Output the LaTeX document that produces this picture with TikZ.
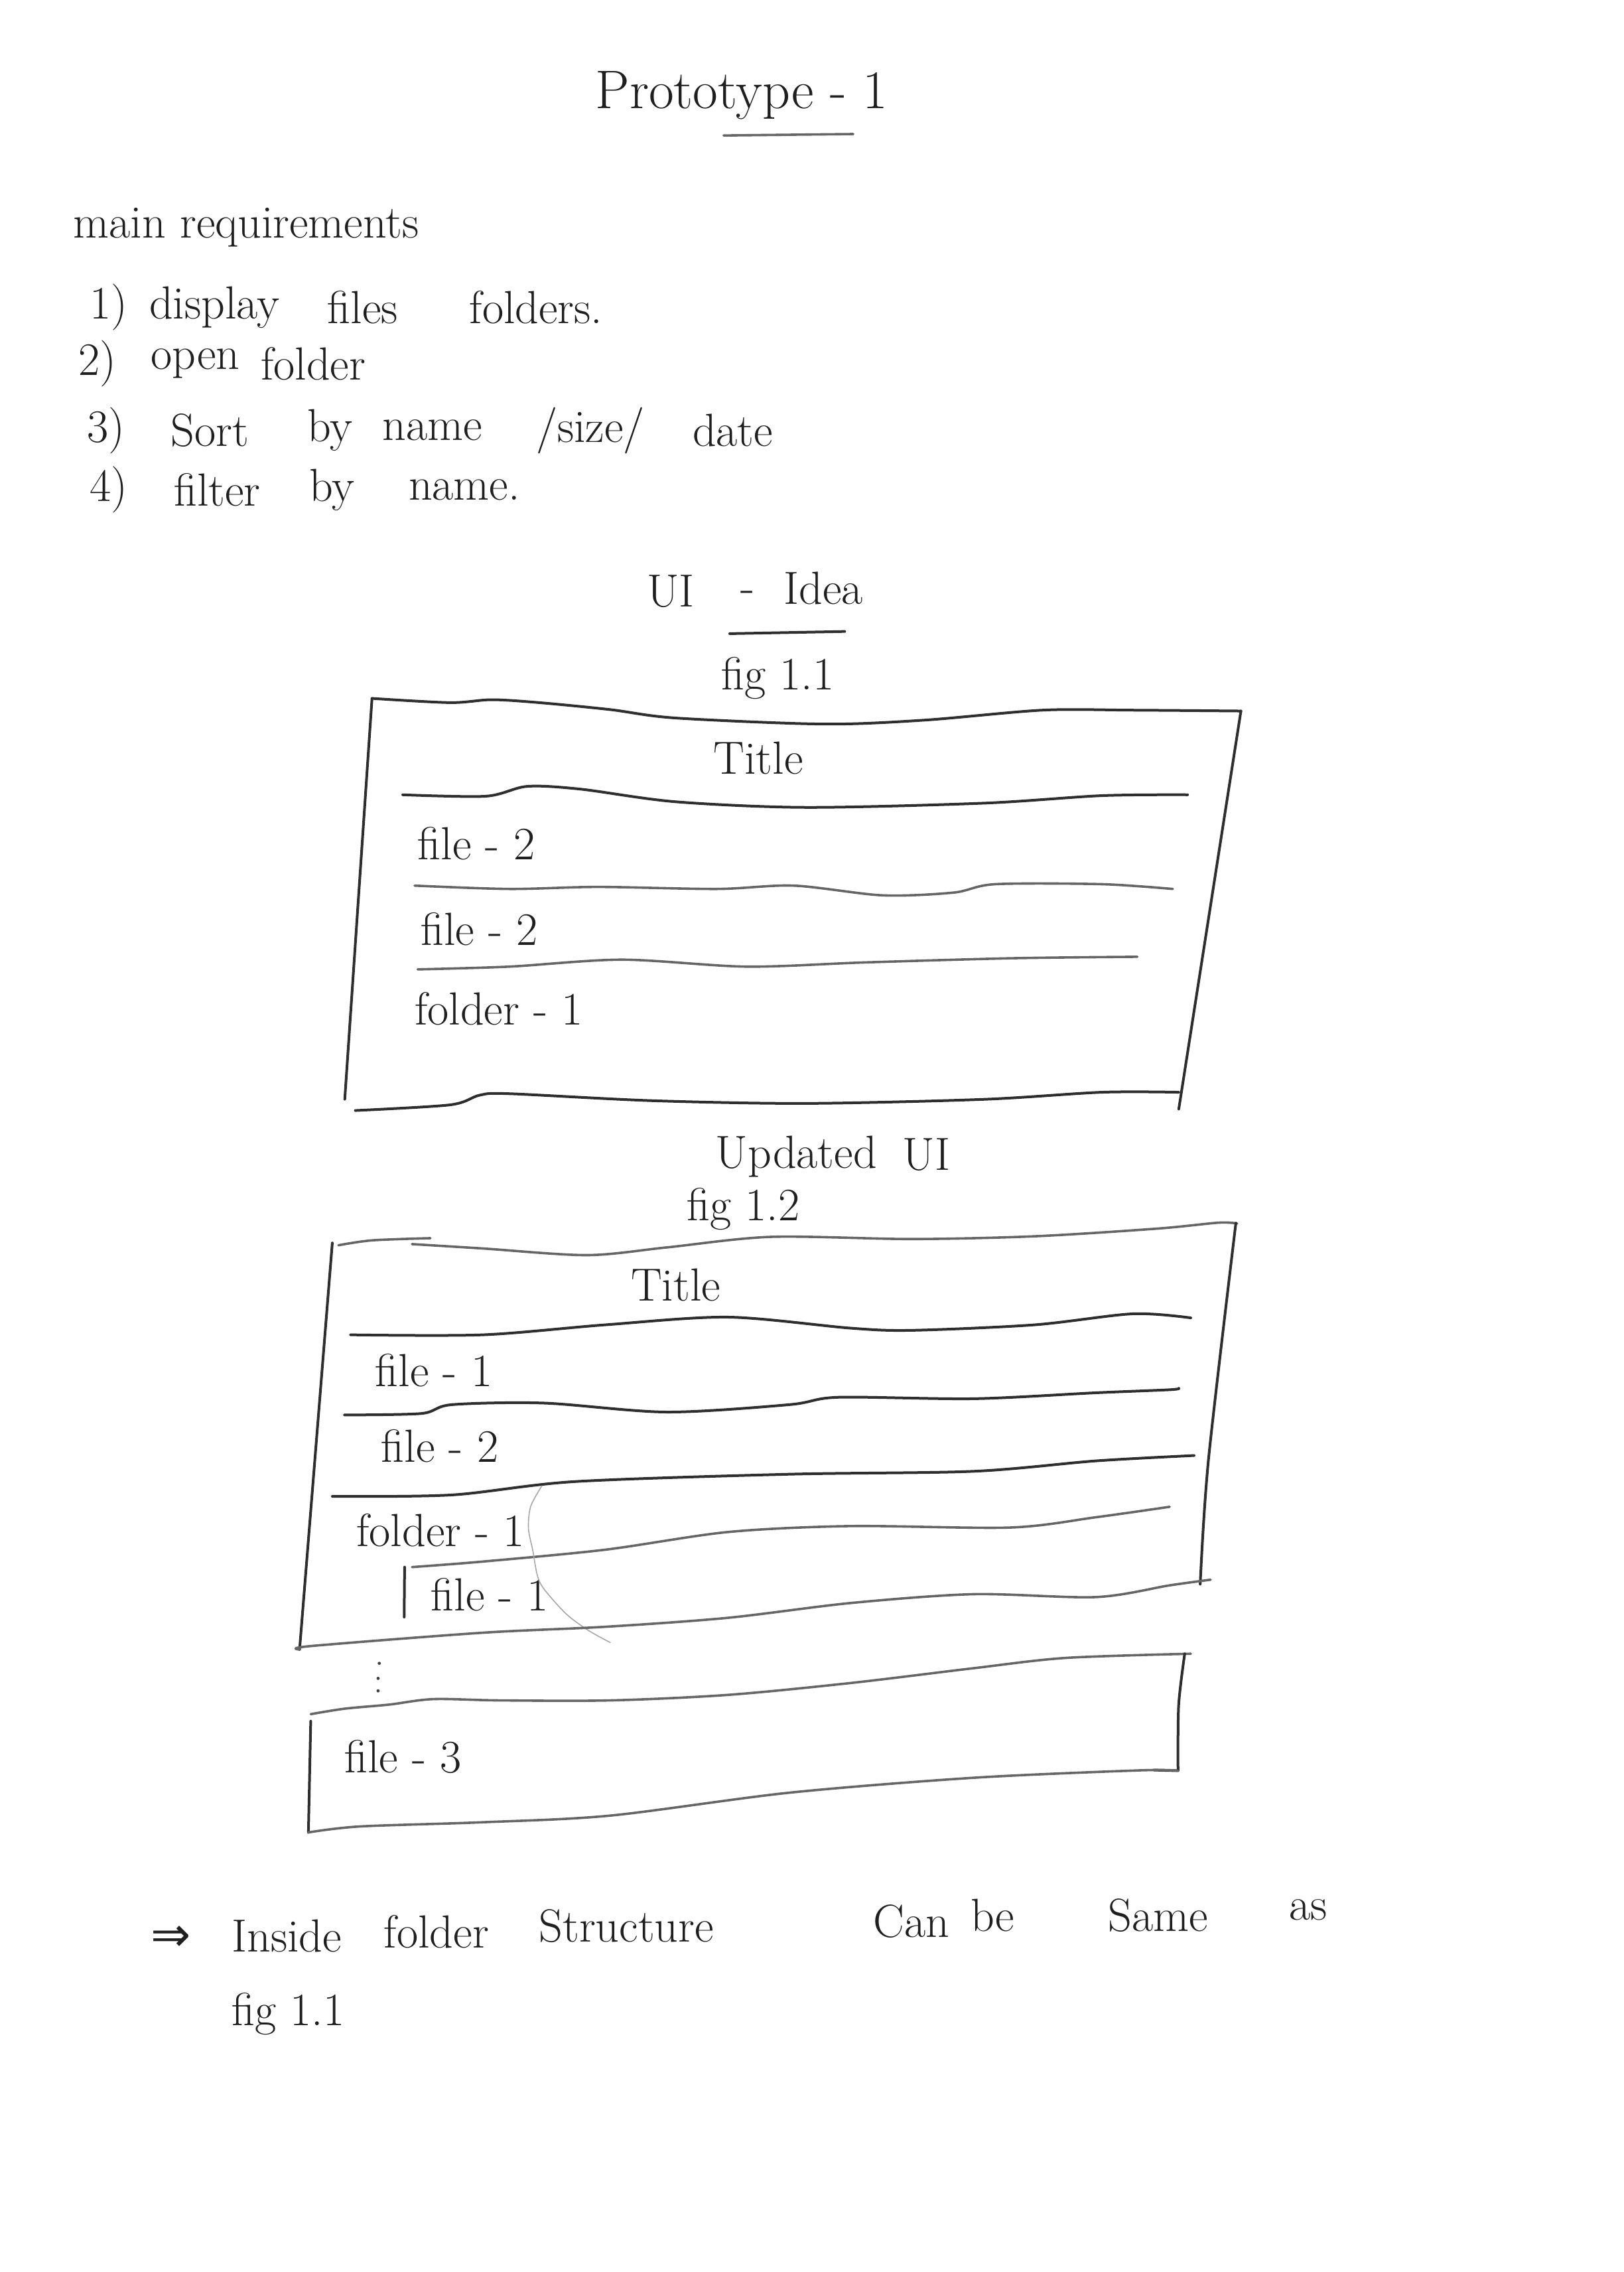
\documentclass[tikz,border=0pt]{standalone}
\usepackage{fontspec}
\newfontfamily\symbfont{DejaVu Sans}
\begin{document}
\begin{tikzpicture}[x=2.1838pt,y=-2.1838pt,
  pen/.style={draw=black!82,line width=4pt,line cap=round,line join=round},
  lightpen/.style={draw=black!60,line width=3.6pt,line cap=round,line join=round},
  stray/.style={draw=black!35,line width=1.6pt,line cap=round},
  hand/.style={inner sep=0pt,font=\fontsize{70}{76}\selectfont,text=black!88},
  handw/.style={hand,anchor=west},
  bighand/.style={inner sep=0pt,font=\fontsize{82}{88}\selectfont,text=black!88}]
\useasboundingbox (0,0) rectangle (1121,1568);
\fill[white] (0,0) rectangle (1121,1568);

% ---------------- heading ----------------
\node[bighand] (proto) at (512,66) {Prototype - 1};
\coordinate (pu1) at (499.5,93.5);
\coordinate (pu2) at (589,92.5);
\draw[lightpen] (pu1) -- (pu2);

% ---------------- requirements ----------------
\node[handw] (mainreq) at (50.6,157) {main requirements};

\node[handw] (r1a) at (62,212) {1)};
\node[handw] (r1b) at (103,212) {display};
\node[handw] (r1c) at (226,212) {files};
\node[handw] (r1d) at (324,212) {folders.};

\node[handw] (r2a) at (54,251) {2)};
\node[handw] (r2b) at (104,251) {open};
\node[handw] (r2c) at (180,251) {folder};

\node[handw] (r3a) at (60,297) {3)};
\node[handw] (r3b) at (118,297) {Sort};
\node[handw] (r3c) at (212,297) {by};
\node[handw] (r3d) at (264,297) {name};
\node[handw] (r3e) at (370,297) {/size/};
\node[handw] (r3f) at (478,297) {date};

\node[handw] (r4a) at (62,338) {4)};
\node[handw] (r4b) at (120,338) {filter};
\node[handw] (r4c) at (213.6,338) {by};
\node[handw] (r4d) at (282,338) {name.};

% ---------------- UI idea / fig 1.1 ----------------
\node[handw] (ui) at (446.5,408) {UI};
\node[hand] (uidash) at (516,412) {-};
\node[handw] (idea) at (541,406) {Idea};
\coordinate (iu1) at (503.7,437.3);
\coordinate (iu2) at (583.1,435.8);
\draw[pen] (iu1) -- (iu2);
\node[hand] (fig11) at (537,468) {fig 1.1};

% box 1
\draw[pen] plot[smooth] coordinates {(256.8,482.0) (310.7,484.9) (339.4,482.9) (372.1,484.9) (421.1,489.7) (466.1,495.5) (568.4,499.7) (637.9,497.0) (719.6,490.1) (781.0,490.1) (856.6,490.7)};
\draw[pen] (256.8,482.0) -- (238.0,758.6);
\draw[pen] (856.6,490.7) -- (813.7,765.4);
\node[hand] (title1) at (523.4,523.4) {Title};
\draw[pen] plot[smooth] coordinates {(278.0,548.5) (335.3,549.5) (363.9,542.7) (400.7,544.6) (466.1,553.3) (556.1,557.2) (678.8,554.3) (760.5,549.1) (819.8,548.5)};
\node[handw] (b1f1) at (288.3,582.2) {file - 2};
\draw[lightpen] plot[smooth] coordinates {(286.2,611.2) (351.6,613.5) (413.0,612.1) (494.8,613.5) (547.9,611.2) (609.2,617.9) (658.3,616.0) (687.0,610.2) (760.5,610.2) (809.6,613.5)};
\node[handw] (b1f2) at (290.3,641.0) {file - 2};
\draw[lightpen] plot[smooth] coordinates {(288.3,669.0) (351.6,667.1) (429.3,662.3) (515.2,667.1) (597.0,664.2) (699.2,661.3) (785.1,660.3)};
\node[handw] (b1d1) at (286.2,696.0) {folder - 1};
\draw[pen] plot[smooth] coordinates {(245.3,766.4) (310.7,762.5) (331.2,755.8) (351.6,754.8) (449.8,759.6) (556.1,761.5) (678.8,758.7) (760.5,753.8) (813.7,753.8)};

% ---------------- updated UI / fig 1.2 ----------------
\node[handw] (upd) at (494,798.3) {Updated};
\node[handw] (updui) at (623,797) {UI};
\node[hand] (fig12) at (513,834.2) {fig 1.2};

% box 2
\draw[lightpen] plot[smooth] coordinates {(233.6,859.4) (256.9,856.0) (297.1,854.5)};
\draw[lightpen] plot[smooth] coordinates {(284.4,858.6) (333.1,861.6) (405.1,866.2) (460.1,860.9) (532.1,853.6) (629.5,855.1) (714.2,853.2) (798.9,847.9) (841.2,843.8) (854.0,844.4)};
\draw[pen] (229.4,857.8) -- (206.8,1138.4);
\draw[pen] plot[smooth] coordinates {(853.1,844.1) (834.2,1007.4) (828.5,1093.3)};
\node[hand] (title2) at (466.5,886.8) {Title};
\draw[pen] plot[smooth] coordinates {(242.0,921.2) (333.1,921.2) (417.8,914.3) (502.5,909.0) (587.2,916.6) (629.5,918.1) (714.2,914.3) (782.0,906.7) (822.0,909.5)};
\node[handw] (b2f1) at (259,945.6) {file - 1};
\draw[pen] plot[smooth] coordinates {(237.8,976.5) (290.8,975.5) (311.9,969.4) (375.4,968.3) (460.1,974.5) (544.8,969.4) (578.7,964.3) (671.9,965.3) (756.5,961.2) (807.4,959.1) (813.7,958.1)};
\node[handw] (b2f2) at (263.2,998) {file - 2};
\draw[pen] plot[smooth] coordinates {(229.4,1032.7) (311.9,1031.7) (396.6,1022.5) (544.8,1017.4) (671.9,1015.4) (756.5,1008.2) (824.3,1004.5)};
\node[handw] (b2d1) at (246,1056) {folder - 1};
\draw[lightpen] plot[smooth] coordinates {(284.4,1081.5) (333.1,1077.7) (417.8,1069.5) (502.5,1057.3) (587.2,1053.2) (697.3,1054.2) (756.5,1047.1) (807.4,1039.9)};
\draw[pen] (279.3,1081.5) -- (279.0,1116.0);
\node[handw] (b2in) at (297.5,1100.3) {file - 1};
\draw[stray] plot[smooth] coordinates {(374.0,1025.5) (366.3,1039.7) (364.8,1054.9) (367.8,1070.1) (370.9,1087.1) (375.5,1096.6) (390.7,1113.7) (406.0,1125.1) (421.3,1133.6)};
\draw[lightpen] plot[smooth] coordinates {(206.8,1138.4) (214.5,1136.0) (333.1,1126.8) (417.8,1122.7) (502.5,1116.5) (587.2,1106.3) (671.9,1100.2) (756.5,1102.2) (807.4,1094.1) (835.7,1090.2)};

% dots
\fill[black!75] (261.8,1147.9) circle (1.1) (261.0,1158.3) circle (1.1) (261.0,1166.9) circle (1.1);

% box 3
\draw[lightpen] plot[smooth] coordinates {(214.5,1183.0) (238.1,1179.2) (268.6,1176.4) (299.2,1172.6) (345.0,1173.5) (421.3,1173.5) (502.5,1169.7) (587.2,1161.5) (671.9,1151.3) (735.4,1144.2) (822.0,1141.3)};
\draw[pen] plot[smooth] coordinates {(817.8,1141.3) (813.6,1177.1) (813.2,1222.0)} -- (796.8,1221.6);
\draw[pen] (214.5,1187.8) -- (212.9,1264.6);
\draw[lightpen] plot[smooth] coordinates {(212.9,1264.6) (248.4,1260.5) (333.1,1257.6) (421.3,1253.0) (544.8,1237.2) (671.9,1226.9) (786.2,1221.8) (813.2,1222.0)};
\node[handw] (b3f3) at (237.8,1212.6) {file - 3};

% ---------------- bottom note ----------------
\node[handw,font=\symbfont\fontsize{72}{76}\selectfont] (arrow) at (104,1338) {⇒};
\node[handw] (w1) at (160,1336) {Inside};
\node[handw] (w2) at (265,1333) {folder};
\node[handw] (w3) at (372,1329) {Structure};
\node[handw] (w4) at (603,1326) {Can};
\node[handw] (w5) at (670,1322) {be};
\node[handw] (w6) at (765,1322) {Same};
\node[handw] (w7) at (890,1318) {as};
\node[handw] (w8) at (160,1390) {fig 1.1};
\end{tikzpicture}
\end{document}
